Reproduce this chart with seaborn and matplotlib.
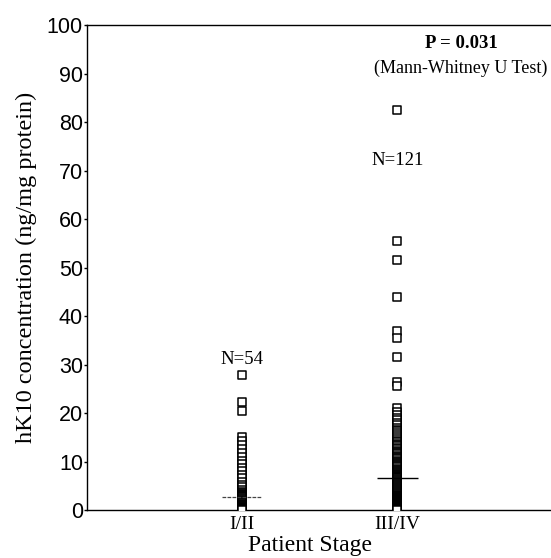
import numpy as np
import matplotlib
matplotlib.use("Agg")
import matplotlib.pyplot as plt
import seaborn as sns
import pandas as pd

stages = ["I/II", "III/IV"]

stage_1_2 = [27.8, 22.3, 20.4, 15.0, 14.3, 13.5, 12.5, 11.8, 11.0, 10.2,
             9.5, 8.7, 8.0, 7.3, 6.5, 5.8, 5.2, 4.7, 4.2, 3.8,
             3.5, 3.3, 3.1, 3.0, 2.9, 2.8, 2.75,
             2.6, 2.4, 2.2, 2.0, 1.9, 1.8, 1.6, 1.5, 1.4, 1.2,
             1.1, 1.0, 0.9, 0.8, 0.7, 0.6, 0.5, 0.4, 0.35, 0.3,
             0.25, 0.2, 0.15, 0.1, 0.05, 0.0, 0.0]

stage_3_4 = [82.5, 55.5, 51.5, 44.0, 37.0, 35.5, 31.5, 26.5, 25.5,
             21.0, 20.3, 19.5, 19.0, 18.5, 18.0, 17.5, 17.0, 16.6, 16.2,
             15.8, 15.4, 15.0, 14.6, 14.3, 14.0, 13.7, 13.4, 13.1, 12.8,
             12.5, 12.2, 12.0, 11.7, 11.5, 11.2, 11.0, 10.8, 10.5, 10.2,
             10.0, 9.7, 9.5, 9.2, 9.0, 8.8, 8.5, 8.3, 8.0, 7.8,
             7.6, 7.4, 7.3, 7.2, 7.1, 7.0, 6.9, 6.8, 6.75, 6.7,
             6.65, 6.6,
             6.5, 6.3, 6.1, 5.9, 5.7, 5.5, 5.3, 5.1, 4.9, 4.7,
             4.5, 4.3, 4.1, 3.9, 3.7, 3.5, 3.3, 3.1, 2.9, 2.8,
             2.7, 2.6, 2.5, 2.4, 2.3, 2.2, 2.1, 2.0, 1.9, 1.8,
             1.7, 1.6, 1.5, 1.4, 1.3, 1.2, 1.1, 1.0, 0.95, 0.9,
             0.85, 0.8, 0.75, 0.7, 0.65, 0.6, 0.55, 0.5, 0.45, 0.4,
             0.35, 0.3, 0.25, 0.2, 0.15, 0.1, 0.08, 0.05, 0.02, 0.0]

n_labels = ["N=54", "N=121"]
n_label_y = [31.0, 72.0]
p_text = "P = 0.031"
test_text = "(Mann-Whitney U Test)"


def main():
    sns.set_style("white")
    plt.rcParams['font.family'] = ['Liberation Serif', 'DejaVu Serif']
    plt.rcParams.update({'text.color': 'black', 'axes.labelcolor': 'black',
                         'xtick.color': 'black', 'ytick.color': 'black'})

    df = pd.DataFrame({
        "stage": [stages[0]] * len(stage_1_2) + [stages[1]] * len(stage_3_4),
        "value": stage_1_2 + stage_3_4,
    })

    fig = plt.figure(figsize=(5.51, 5.58), dpi=100)
    ax = fig.add_axes([0.158, 0.086, 0.842, 0.869])

    sns.stripplot(data=df, x="stage", y="value", order=stages, jitter=False,
                  marker="s", size=5.3, color="white", edgecolor="black",
                  linewidth=1.1, ax=ax, zorder=3)

    # median lines
    meds = df.groupby("stage")["value"].median()
    ax.hlines(meds[stages[0]], -0.13, 0.13, color="#444444", lw=0.9,
              linestyles=(0, (3, 1)), zorder=4)
    ax.hlines(meds[stages[1]], 0.87, 1.13, color="black", lw=1.0, zorder=4)

    for i, (lab, yy) in enumerate(zip(n_labels, n_label_y)):
        ax.text(i, yy, lab, ha="center", va="center", fontsize=13.5)

    ax.text(1.41, 96.3, p_text, ha="center", va="center", fontsize=13.5,
            fontweight="bold")
    ax.text(1.41, 91.0, test_text, ha="center", va="center", fontsize=13)

    ax.set_xlim(-1, 1.99)
    ax.set_ylim(0, 100)
    ax.set_yticks(range(0, 101, 10))
    ax.set_yticklabels([str(v) for v in range(0, 101, 10)],
                       family=['Liberation Sans', 'DejaVu Sans'], fontsize=15.5)
    ax.tick_params(axis="y", length=2, width=1, pad=1, direction="out", left=True)
    ax.tick_params(axis="x", length=0, pad=4, labelsize=14, bottom=True)

    ax.set_xlabel("Patient Stage", fontsize=17, labelpad=1.5, x=0.48)
    ax.set_ylabel("hK10 concentration (ng/mg protein)", fontsize=17.5, labelpad=7)

    for side in ["left", "bottom", "top"]:
        ax.spines[side].set_visible(True)
        ax.spines[side].set_color("black")
        ax.spines[side].set_linewidth(1.0)
    ax.spines["right"].set_visible(False)

    fig.savefig("out.png", dpi=100)


if __name__ == '__main__':
    main()
